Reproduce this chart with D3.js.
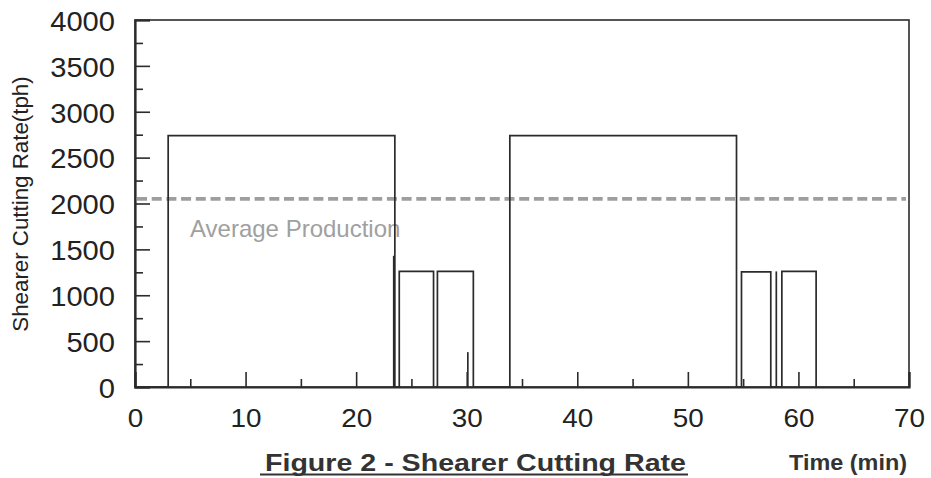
<!DOCTYPE html>
<html>
<head>
<meta charset="utf-8">
<script src="https://cdn.jsdelivr.net/npm/d3@7"></script>
<style>
  html, body { margin: 0; padding: 0; background: #fff; }
  svg { display: block; font-family: "Liberation Sans", Arial, sans-serif; }
</style>
</head>
<body>
<svg id="chart" width="931" height="478"></svg>
<script>
// Shearer cutting rate over the shift, as a step series (minutes, tph)
const times = [0, 3.0, 23.5, 23.9, 27.0, 27.35, 30.6, 33.9, 54.4, 54.85, 57.5, 58.5, 61.6];
const rates = [0, 2740, 0, 1260, 0, 1260, 0, 2740, 0, 1255, 0, 1260, 0];

// Short spikes logged during the transitions
const spikeTimes = [23.4, 58.0, 30.1];
const spikeRates = [1430, 1260, 380];

const averageProduction = 2050;

const xTicks = [0, 10, 20, 30, 40, 50, 60, 70];
const yTicks = [0, 500, 1000, 1500, 2000, 2500, 3000, 3500, 4000];
const xMinorTicks = [5, 15, 25, 35, 45, 55, 65];
const yMinorTicks = [250, 750, 1250, 1750, 2250, 2750, 3250, 3750];

const svg = d3.select("#chart");
const plotLeft = 135, plotRight = 909, plotTop = 20, plotBottom = 387;

const x = d3.scaleLinear().domain([0, 70]).range([plotLeft, plotRight]);
const y = d3.scaleLinear().domain([0, 4000]).range([plotBottom, plotTop]);

const ink = "#2b2b2b";
const font = "'Liberation Sans', Arial, sans-serif";

// Frame
svg.append("rect")
  .attr("x", plotLeft).attr("y", plotTop)
  .attr("width", plotRight - plotLeft).attr("height", plotBottom - plotTop)
  .attr("fill", "none").attr("stroke", ink).attr("stroke-width", 1.6);

// Inward ticks, major and minor
const xAxis = svg.append("g").attr("transform", `translate(0,${plotBottom})`)
  .call(d3.axisBottom(x).tickValues(xTicks).tickSize(-15).tickPadding(22).tickFormat(d3.format("d")));
svg.append("g").attr("transform", `translate(0,${plotBottom})`)
  .call(d3.axisBottom(x).tickValues(xMinorTicks).tickSize(-8).tickFormat(""))
  .call(g => g.select(".domain").remove());

const yAxis = svg.append("g").attr("transform", `translate(${plotLeft},0)`)
  .call(d3.axisLeft(y).tickValues(yTicks).tickSize(-15).tickPadding(20).tickFormat(d3.format("d")));
svg.append("g").attr("transform", `translate(${plotLeft},0)`)
  .call(d3.axisLeft(y).tickValues(yMinorTicks).tickSize(-8).tickFormat(""))
  .call(g => g.select(".domain").remove());

svg.selectAll(".tick line").attr("stroke", ink).attr("stroke-width", 1.6);
svg.selectAll(".domain").attr("stroke", ink).attr("stroke-width", 2.2);

// Tick labels: the printed digits are slightly wide, so stretch them a little
xAxis.selectAll("text")
  .attr("font-size", 26).attr("fill", "#222").attr("font-family", font)
  .attr("textLength", d => String(d).length * 15.5)
  .attr("lengthAdjust", "spacingAndGlyphs");
yAxis.selectAll("text")
  .attr("font-size", 27).attr("fill", "#222").attr("font-family", font)
  .attr("dy", "0.38em")
  .attr("textLength", d => String(d).length * 16.2)
  .attr("lengthAdjust", "spacingAndGlyphs");

// Average production reference line
svg.append("line")
  .attr("x1", x(0) + 2).attr("x2", x(70) - 3)
  .attr("y1", y(averageProduction)).attr("y2", y(averageProduction))
  .attr("stroke", "#9e9e9e").attr("stroke-width", 3.8)
  .attr("stroke-dasharray", "10,4.7");

svg.append("text")
  .attr("x", 190).attr("y", 237)
  .attr("font-size", 24).attr("fill", "#a0a0a0")
  .text("Average Production");

// Cutting rate step line
const pts = times.map((t, i) => [t, rates[i]]);
svg.append("path")
  .datum(pts)
  .attr("fill", "none").attr("stroke", ink).attr("stroke-width", 1.7)
  .attr("d", d3.line().x(d => x(d[0])).y(d => y(d[1])).curve(d3.curveStepAfter));

svg.selectAll(".spike")
  .data(spikeTimes.map((t, i) => [t, spikeRates[i]]))
  .join("line").attr("class", "spike")
  .attr("x1", d => x(d[0])).attr("x2", d => x(d[0]))
  .attr("y1", y(0)).attr("y2", d => y(d[1]))
  .attr("stroke", ink).attr("stroke-width", 1.7);

// Axis title (vertical)
svg.append("text")
  .attr("transform", "translate(28,204) rotate(-90)")
  .attr("text-anchor", "middle")
  .attr("font-size", 22.3).attr("fill", "#222")
  .text("Shearer Cutting Rate(tph)");

// Figure caption, underlined
svg.append("text")
  .attr("x", 265).attr("y", 471)
  .attr("font-size", 23.5).attr("font-weight", "bold").attr("fill", "#333")
  .attr("textLength", 421).attr("lengthAdjust", "spacingAndGlyphs")
  .text("Figure 2 - Shearer Cutting Rate");
svg.append("line")
  .attr("x1", 260).attr("x2", 688)
  .attr("y1", 474.5).attr("y2", 474.5)
  .attr("stroke", "#333").attr("stroke-width", 2);

svg.append("text")
  .attr("x", 789).attr("y", 470)
  .attr("font-size", 22).attr("font-weight", "bold").attr("fill", "#333")
  .attr("textLength", 118).attr("lengthAdjust", "spacingAndGlyphs")
  .text("Time (min)");
</script>
</body>
</html>
